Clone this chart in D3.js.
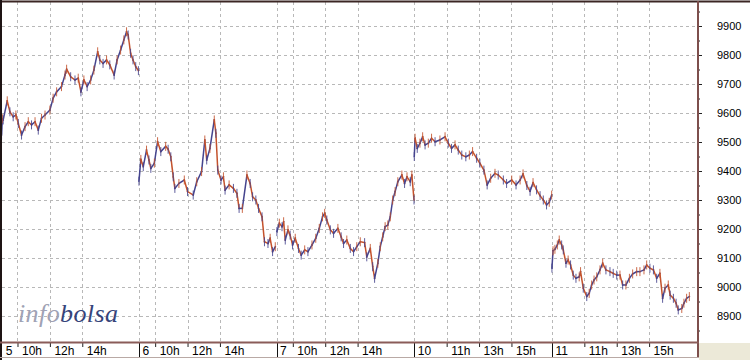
<!DOCTYPE html>
<html><head><meta charset="utf-8">
<script src="https://cdn.jsdelivr.net/npm/d3@7/dist/d3.min.js"></script>
<style>
body{margin:0;background:#fff;}
svg{display:block;font-family:"Liberation Sans",Arial,sans-serif;}
</style>
</head><body>
<svg id="chart" width="750" height="360"></svg>
<script>
// ---------- data ----------
const dayLabels = ["5", "6", "7", "10", "11"];
const hourTicks = [[10, 12, 14], [10, 12, 14], [10, 12, 14], [11, 13, 15], [11, 13, 15]];
const priceMajor = [8900, 9000, 9100, 9200, 9300, 9400, 9500, 9600, 9700, 9800, 9900];
const priceMinor = [8850, 8950, 9050, 9150, 9250, 9350, 9450, 9550, 9650, 9750, 9850, 9950];
// [minutes since 9:00, price]
const day5 = [[1,9524],[4,9580],[7,9576],[22,9642],[32,9604],[44,9587],[54,9593],[63,9564],[75,9524],[88,9553],[100,9570],[112,9559],[125,9570],[137,9541],[149,9582],[162,9593],[180,9610],[192,9651],[205,9673],[223,9691],[236,9731],[242,9751],[257,9725],[273,9714],[285,9720],[295,9673],[306,9714],[318,9691],[331,9714],[343,9748],[357,9811],[365,9783],[377,9771],[390,9783],[402,9766],[418,9731],[429,9783],[442,9817],[454,9852],[464,9880],[470,9869],[479,9806],[488,9783],[498,9760],[508,9746]];
const day6 = [[0,9365],[7,9440],[16,9415],[28,9472],[37,9438],[44,9409],[57,9427],[69,9501],[81,9467],[99,9485],[108,9475],[118,9449],[127,9380],[133,9340],[148,9357],[168,9369],[180,9329],[201,9317],[214,9363],[232,9398],[244,9507],[251,9438],[263,9478],[279,9576],[285,9530],[292,9403],[304,9369],[313,9380],[319,9334],[334,9352],[350,9340],[363,9323],[371,9271],[383,9271],[400,9386],[412,9357],[421,9311],[433,9300],[443,9271],[456,9242],[465,9156],[478,9150],[486,9168],[495,9122],[505,9139]];
const day7 = [[1,9191],[10,9220],[20,9208],[26,9225],[32,9162],[42,9197],[50,9179],[59,9145],[69,9168],[81,9133],[91,9110],[104,9128],[116,9122],[131,9145],[145,9168],[158,9202],[170,9242],[178,9254],[186,9231],[199,9197],[211,9185],[227,9202],[239,9173],[248,9150],[260,9162],[273,9133],[285,9122],[297,9139],[310,9156],[326,9153],[334,9104],[347,9133],[356,9070],[363,9030],[375,9082],[384,9139],[393,9173],[402,9208],[412,9214],[421,9242],[430,9300],[439,9329],[449,9363],[464,9386],[474,9357],[483,9380],[495,9363],[501,9386],[509,9300]];
const day10 = [[0,9450],[3,9513],[11,9478],[21,9496],[31,9518],[40,9490],[52,9496],[64,9513],[77,9501],[95,9507],[114,9518],[126,9496],[138,9478],[151,9490],[163,9472],[176,9455],[191,9449],[204,9455],[216,9467],[231,9444],[243,9427],[258,9403],[270,9352],[283,9375],[299,9392],[311,9386],[330,9369],[342,9357],[361,9369],[377,9352],[392,9369],[403,9390],[417,9350],[429,9330],[440,9360],[453,9335],[466,9315],[478,9300],[490,9283],[500,9292],[509,9317]];
const day11 = [[0,9065],[4,9125],[11,9130],[20,9145],[27,9162],[36,9145],[42,9128],[52,9082],[60,9093],[69,9076],[79,9041],[89,9030],[101,9035],[106,9053],[116,8996],[129,8967],[138,8978],[147,9007],[156,9024],[166,9035],[178,9059],[188,9082],[200,9059],[215,9053],[227,9047],[240,9041],[252,9041],[262,9007],[274,9007],[287,9030],[299,9045],[314,9053],[326,9053],[341,9059],[351,9076],[363,9065],[376,9059],[388,9030],[400,9047],[410,8961],[419,8996],[431,9007],[438,8972],[450,8961],[460,8944],[468,8921],[481,8926],[489,8944],[499,8961],[509,8967]];
const days = [day5, day6, day7, day10, day11];

// ---------- layout ----------
const SESSION = 510; // 9:00 - 17:30
const plotL = 2, plotR = 697, plotT = 2, plotB = 342;
const x = d3.scaleLinear().domain([0, 5 * SESSION]).range([1.3, 689.6]);
const y = d3.scaleLinear().domain([8900, 9900]).range([316, 26]);
const xt = (di, m) => x(di * SESSION + m);

const svg = d3.select("#chart");
svg.append("rect").attr("width", 750).attr("height", 360).attr("fill", "#fff");
// beige corner
svg.append("rect").attr("x", 699).attr("y", 343).attr("width", 51).attr("height", 17).attr("fill", "#ECE9D8");

// grid
const grid = svg.append("g").attr("stroke", "#b8b8b8").attr("stroke-width", 1).attr("stroke-dasharray", "3,3");
grid.selectAll("line.h").data(priceMajor).join("line")
  .attr("x1", plotL).attr("x2", plotR)
  .attr("y1", d => Math.round(y(d)) + 0.5).attr("y2", d => Math.round(y(d)) + 0.5);
const vTicks = [];
hourTicks.forEach((hs, di) => {
  vTicks.push({di, m: 0, day: true});
  hs.forEach(h => vTicks.push({di, m: (h - 9) * 60, h}));
});
grid.selectAll("line.v").data(vTicks.filter(d => !(d.di === 0 && d.day))).join("line")
  .attr("x1", d => Math.round(xt(d.di, d.m)) + 0.5).attr("x2", d => Math.round(xt(d.di, d.m)) + 0.5)
  .attr("y1", plotT).attr("y2", plotB);

// price series: segments coloured by direction
const up = "#45448e", dn = "#c4522c";
const segs = [];
days.forEach((pts, di) => {
  for (let i = 1; i < pts.length; i++) {
    segs.push({x1: xt(di, pts[i-1][0]), y1: y(pts[i-1][1]), x2: xt(di, pts[i][0]), y2: y(pts[i][1]), up: pts[i][1] >= pts[i-1][1]});
  }
});
const series = svg.append("g").attr("stroke-linecap", "square");
series.selectAll("line").data(segs).join("line")
  .attr("x1", d => d.x1).attr("y1", d => d.y1).attr("x2", d => d.x2).attr("y2", d => d.y2)
  .attr("stroke", d => d.up ? up : dn).attr("stroke-width", 1.5);
// small high-low bars at each point
const bars = [];
days.forEach((pts, di) => pts.forEach((p, i) => bars.push({x: xt(di, p[0]), v: p[1], up: i > 0 && p[1] >= pts[i-1][1]})));
series.append("g").selectAll("line").data(bars).join("line")
  .attr("x1", d => d.x).attr("x2", d => d.x)
  .attr("y1", d => y(d.v) - 4).attr("y2", d => y(d.v) + 4)
  .attr("stroke", d => d.up ? dn : up).attr("stroke-width", 1).attr("opacity", 0.85);

// watermark
const wm = svg.append("text").attr("x", 18).attr("y", 322)
  .attr("font-family", "'Liberation Serif', 'DejaVu Serif', serif").attr("font-style", "italic")
  .attr("font-size", 26).attr("letter-spacing", 0.4);
wm.append("tspan").attr("fill", "#a0a2b4").text("info");
wm.append("tspan").attr("fill", "#36447a").text("bolsa");

// right axis
const ra = svg.append("g").attr("transform", `translate(${plotR},0)`);
ra.call(d3.axisRight(y).tickValues(priceMajor).tickSize(5).tickPadding(15).tickFormat(d3.format("d")));
ra.append("g").call(d3.axisRight(y).tickValues(priceMinor).tickSize(3).tickFormat(""));
ra.selectAll(".domain").remove();
ra.selectAll("line").attr("stroke", "#222");
ra.selectAll("text").attr("font-size", 11).attr("fill", "#000").attr("font-family", "'Liberation Sans', Arial, sans-serif");

// bottom axis (hour ticks)
const hourData = vTicks.filter(d => !d.day);
const ba = svg.append("g").attr("transform", `translate(0,${plotB + 1})`);
ba.call(d3.axisBottom(x).tickValues(hourData.map(d => d.di * SESSION + d.m)).tickSize(4)
  .tickFormat((v, i) => hourData[i].h + "h"));
ba.selectAll(".domain").remove();
ba.selectAll("line").attr("stroke", "#222");
ba.selectAll("text").attr("text-anchor", "start").attr("x", 4).attr("y", 12).attr("dy", 0)
  .attr("font-size", 12).attr("fill", "#000").attr("font-family", "'Liberation Sans', Arial, sans-serif");

// day boundaries on axis
const dayG = svg.append("g");
dayG.selectAll("line").data(dayLabels).join("line")
  .attr("x1", (d, i) => Math.round(xt(i, 0)) + 0.5).attr("x2", (d, i) => Math.round(xt(i, 0)) + 0.5)
  .attr("y1", plotB).attr("y2", 358).attr("stroke", "#111").attr("stroke-width", 1);
dayG.selectAll("text").data(dayLabels).join("text")
  .attr("x", (d, i) => xt(i, 0) + (i === 0 ? 4.5 : 3.5)).attr("y", 355)
  .attr("font-size", 12).attr("fill", "#000").text(d => d);

// frame
svg.append("line").attr("x1", 0).attr("x2", 750).attr("y1", 1.5).attr("y2", 1.5).attr("stroke", "#3b2624").attr("stroke-width", 2);
svg.append("line").attr("x1", 1).attr("x2", 1).attr("y1", 0).attr("y2", 360).attr("stroke", "#1e1414").attr("stroke-width", 2);
svg.append("line").attr("x1", plotR + 1).attr("x2", plotR + 1).attr("y1", 1).attr("y2", 358).attr("stroke", "#7d4f4c").attr("stroke-width", 2);
svg.append("line").attr("x1", 0).attr("x2", plotR + 2).attr("y1", plotB + 0.5).attr("y2", plotB + 0.5).attr("stroke", "#8a5c59").attr("stroke-width", 2);
svg.append("line").attr("x1", 0).attr("x2", plotR + 2).attr("y1", 357.5).attr("y2", 357.5).attr("stroke", "#b9a9a5").attr("stroke-width", 1);
</script>
</body></html>
